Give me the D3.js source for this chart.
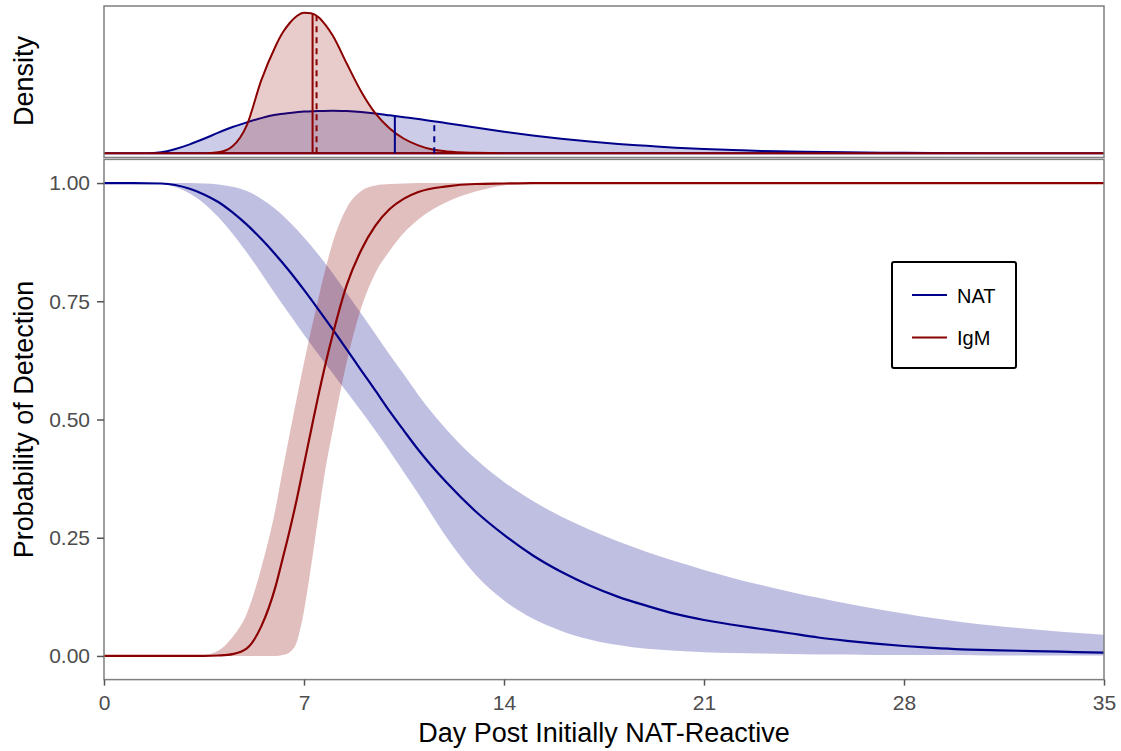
<!DOCTYPE html>
<html>
<head>
<meta charset="utf-8">
<script src="https://cdn.jsdelivr.net/npm/d3@7"></script>
<style>
  body { margin: 0; background: #fff; }
  svg { font-family: "Liberation Sans", Arial, sans-serif; }
</style>
</head>
<body>
<svg id="chart" width="1121" height="751"></svg>
<script>
// probability of detection, NAT (median curve + band)
let natDays = [0,1,2,3,3.5,4,4.5,5,5.5,6,6.5,7,7.5,8,8.5,9,9.5,10,10.5,11,12,13,14,15,16,17,18,19,20,21,22,23,24,25,26,27,28,29,30,31,32,33,34,35]
let natMid = [1,1,0.999,0.988,0.976,0.96,0.938,0.912,0.882,0.849,0.813,0.774,0.733,0.691,0.648,0.604,0.561,0.517,0.476,0.436,0.366,0.306,0.256,0.213,0.178,0.149,0.125,0.106,0.089,0.076,0.066,0.057,0.048,0.039,0.032,0.026,0.021,0.017,0.014,0.0125,0.011,0.0097,0.0083,0.007]
let natHigh = [1,1,1,1,0.999,0.997,0.992,0.983,0.967,0.945,0.917,0.885,0.849,0.81,0.767,0.724,0.681,0.637,0.595,0.552,0.478,0.417,0.368,0.328,0.295,0.267,0.242,0.22,0.2,0.182,0.165,0.15,0.136,0.123,0.111,0.1,0.09,0.08,0.072,0.065,0.059,0.054,0.049,0.045]
let natLow = [1,1,0.998,0.978,0.957,0.928,0.893,0.853,0.81,0.765,0.722,0.679,0.638,0.598,0.558,0.518,0.476,0.433,0.388,0.343,0.25,0.172,0.117,0.079,0.053,0.035,0.023,0.015,0.011,0.008,0.006,0.005,0.004,0.003,0.003,0.002,0.002,0.002,0.002,0.001,0.001,0.001,0.001,0.001]

// probability of detection, IgM
let igmDays = [0,1,2,3,3.5,4,4.5,5,5.5,6,6.25,6.5,6.75,7,7.25,7.5,7.75,8,8.5,9,9.5,10,10.5,11,12,13,14,15,16,20,25,30,35]
let igmMid = [0,0,0,0,0,0.001,0.004,0.016,0.062,0.146,0.205,0.266,0.332,0.405,0.478,0.55,0.617,0.678,0.785,0.858,0.91,0.945,0.967,0.981,0.993,0.998,0.999,1,1,1,1,1,1]
let igmHigh = [0,0,0,0,0.002,0.011,0.04,0.09,0.185,0.31,0.392,0.47,0.546,0.62,0.69,0.755,0.818,0.873,0.948,0.983,0.995,0.998,0.999,1,1,1,1,1,1,1,1,1,1]
let igmLow = [0,0,0,0,0,0,0,0,0,0,0.002,0.008,0.03,0.095,0.19,0.295,0.395,0.475,0.622,0.735,0.81,0.857,0.895,0.923,0.96,0.982,0.995,0.999,1,1,1,1,1]

// density panel
let natDensDays = [0,1.5,2,2.5,3,3.5,4,4.5,5,5.5,6,6.5,7,7.5,8,8.5,9,9.5,10,10.5,11,12,13,14,15,16,17,18,19,20,21,22,23,24,26,28,31,35]
let natDens = [0,0,0.002,0.009,0.019,0.031,0.044,0.056,0.066,0.075,0.082,0.086,0.089,0.09,0.091,0.09,0.088,0.085,0.081,0.077,0.073,0.064,0.055,0.046,0.038,0.031,0.025,0.02,0.016,0.012,0.009,0.007,0.005,0.004,0.002,0.001,0,0]
let igmDensDays = [0,3.5,4,4.5,5,5.5,6,6.25,6.5,6.75,7,7.25,7.5,7.75,8,8.5,9,9.5,10,10.5,11,11.5,12,13,14,35]
let igmDens = [0,0,0.002,0.015,0.06,0.155,0.228,0.257,0.278,0.293,0.3,0.299,0.291,0.274,0.252,0.191,0.132,0.085,0.053,0.031,0.017,0.008,0.004,0.001,0,0]

let seriesNames = ["NAT", "IgM"]
let seriesColors = ["#00008b", "#8b0000"]
let medians = [10.18, 7.30]
let means = [11.56, 7.44]

let xTicks = [0, 7, 14, 21, 28, 35]
let yTicks = [0, 0.25, 0.5, 0.75, 1]

let svg = d3.select("#chart")

let left = 104, right = 1104
let x = d3.scaleLinear().domain([0, 35]).range([left, right])
let y = d3.scaleLinear().domain([-0.05, 1.05]).range([679.6, 159.4])
let yd = d3.scaleLinear().domain([-0.009, 0.3143]).range([157.5, 6])

let defs = svg.append("defs")
defs.append("clipPath").attr("id", "clipTop").append("rect")
    .attr("x", left).attr("y", 6).attr("width", right - left).attr("height", 151.5)
defs.append("clipPath").attr("id", "clipMain").append("rect")
    .attr("x", left).attr("y", 159.4).attr("width", right - left).attr("height", 520.2)

let zip = (days, a, b) => days.map((d, i) => ({d: d, a: a[i], b: b ? b[i] : 0}))

let interp = (days, vals, d) => {
    let i = d3.bisectLeft(days, d)
    if (i <= 0) return vals[0]
    let t = (d - days[i - 1]) / (days[i] - days[i - 1])
    return vals[i - 1] + t * (vals[i] - vals[i - 1])
}

// ---- top: density ----
let topPanel = svg.append("g").attr("clip-path", "url(#clipTop)")

let densArea = d3.area()
    .x(p => x(p.d))
    .y0(yd(0))
    .y1(p => yd(p.a))
    .curve(d3.curveMonotoneX)

let densSets = [
    {days: natDensDays, vals: natDens},
    {days: igmDensDays, vals: igmDens}
]

densSets.forEach((s, k) => {
    topPanel.append("path")
        .datum(zip(s.days, s.vals))
        .attr("d", densArea)
        .attr("fill", seriesColors[k])
        .attr("fill-opacity", 0.2)
        .attr("stroke", seriesColors[k])
        .attr("stroke-width", 2)
})

densSets.forEach((s, k) => {
    topPanel.append("line")
        .attr("x1", x(medians[k])).attr("x2", x(medians[k]))
        .attr("y1", yd(0)).attr("y2", yd(interp(s.days, s.vals, medians[k])))
        .attr("stroke", seriesColors[k]).attr("stroke-width", 2)
    topPanel.append("line")
        .attr("x1", x(means[k])).attr("x2", x(means[k]))
        .attr("y1", yd(0)).attr("y2", yd(interp(s.days, s.vals, means[k])))
        .attr("stroke", seriesColors[k]).attr("stroke-width", 2)
        .attr("stroke-dasharray", "6,5")
})

svg.append("rect")
    .attr("x", left).attr("y", 6)
    .attr("width", right - left).attr("height", 151.5)
    .attr("fill", "none").attr("stroke", "#7f7f7f").attr("stroke-width", 1.5)

svg.append("text")
    .attr("transform", "translate(33," + 81 + ") rotate(-90)")
    .attr("text-anchor", "middle")
    .attr("font-size", 27)
    .attr("fill", "#000")
    .text("Density")

// ---- bottom: probability of detection ----
let mainPanel = svg.append("g").attr("clip-path", "url(#clipMain)")

let band = d3.area()
    .x(p => x(p.d))
    .y0(p => y(p.b))
    .y1(p => y(p.a))
    .curve(d3.curveMonotoneX)

let line = d3.line()
    .x(p => x(p.d))
    .y(p => y(p.a))
    .curve(d3.curveMonotoneX)

let mainSets = [
    {days: natDays, mid: natMid, lo: natLow, hi: natHigh},
    {days: igmDays, mid: igmMid, lo: igmLow, hi: igmHigh}
]

mainSets.forEach((s, k) => {
    mainPanel.append("path")
        .datum(zip(s.days, s.hi, s.lo))
        .attr("d", band)
        .attr("fill", seriesColors[k])
        .attr("fill-opacity", 0.25)
})

mainSets.forEach((s, k) => {
    mainPanel.append("path")
        .datum(zip(s.days, s.mid))
        .attr("d", line)
        .attr("fill", "none")
        .attr("stroke", seriesColors[k])
        .attr("stroke-width", 2.2)
})

svg.append("rect")
    .attr("x", left).attr("y", 159.4)
    .attr("width", right - left).attr("height", 520.2)
    .attr("fill", "none").attr("stroke", "#7f7f7f").attr("stroke-width", 1.5)

let xAxis = svg.append("g")
    .attr("transform", "translate(0,679.6)")
    .call(d3.axisBottom(x).tickValues(xTicks).tickFormat(d3.format("d")).tickSize(6).tickPadding(9))
let yAxis = svg.append("g")
    .attr("transform", "translate(" + left + ",0)")
    .call(d3.axisLeft(y).tickValues(yTicks).tickFormat(d3.format(".2f")).tickSize(7).tickPadding(7))

;[xAxis, yAxis].forEach(a => {
    a.select(".domain").remove()
    a.selectAll(".tick line").attr("stroke", "#555").attr("stroke-width", 1.5)
    a.selectAll(".tick text")
        .attr("fill", "#4d4d4d")
        .attr("font-size", 21)
        .attr("font-family", "Liberation Sans, Arial, sans-serif")
})

svg.append("text")
    .attr("x", (left + right) / 2).attr("y", 742)
    .attr("text-anchor", "middle")
    .attr("font-size", 27)
    .text("Day Post Initially NAT-Reactive")

svg.append("text")
    .attr("transform", "translate(33," + 419.5 + ") rotate(-90)")
    .attr("text-anchor", "middle")
    .attr("font-size", 27)
    .text("Probability of Detection")

// ---- legend ----
let legend = svg.append("g")
legend.append("rect")
    .attr("x", 892).attr("y", 262)
    .attr("width", 124).attr("height", 106)
    .attr("rx", 2)
    .attr("fill", "#fff").attr("stroke", "#000").attr("stroke-width", 2)

seriesNames.forEach((name, k) => {
    let ly = 295 + k * 42.5
    legend.append("line")
        .attr("x1", 912).attr("x2", 947)
        .attr("y1", ly).attr("y2", ly)
        .attr("stroke", seriesColors[k]).attr("stroke-width", 2)
    legend.append("text")
        .attr("x", 957).attr("y", ly + 7.5)
        .attr("font-size", 20)
        .text(name)
})
</script>
</body>
</html>
